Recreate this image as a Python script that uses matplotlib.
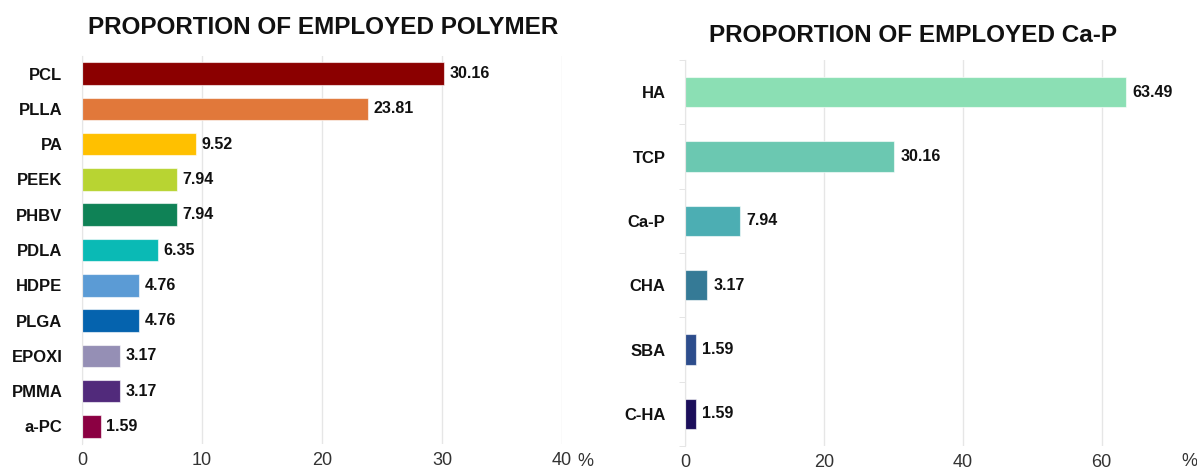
import matplotlib
matplotlib.use('Agg')
import matplotlib.pyplot as plt
from matplotlib.ticker import FixedLocator

# ---- data ----
polymers = ['PCL', 'PLLA', 'PA', 'PEEK', 'PHBV', 'PDLA', 'HDPE', 'PLGA', 'EPOXI', 'PMMA', 'a-PC']
polymer_pct = [30.16, 23.81, 9.52, 7.94, 7.94, 6.35, 4.76, 4.76, 3.17, 3.17, 1.59]
polymer_colors = ['#8B0000', '#E1783A', '#FFC000', '#B8D432', '#0F8256', '#0ABAB5',
                  '#5B9BD5', '#0563AE', '#958FB5', '#512A7B', '#8B0042']

capp = ['HA', 'TCP', 'Ca-P', 'CHA', 'SBA', 'C-HA']
capp_pct = [63.49, 30.16, 7.94, 3.17, 1.59, 1.59]
capp_colors = ['#8BDFB4', '#6BC8B1', '#4CAEB3', '#357A96', '#2D4D8C', '#1B0E5A']

plt.rcParams['font.family'] = ['Liberation Sans', 'DejaVu Sans']

W, H = 1197, 473
fig = plt.figure(figsize=(W / 100, H / 100), dpi=100)


def px_axes(x0, x1, y0, y1):
    return fig.add_axes([x0 / W, 1 - y1 / H, (x1 - x0) / W, (y1 - y0) / H])


def style(ax, cats, xmax, xticks, boundary_ticks):
    ax.set_xlim(0, xmax)
    ax.set_ylim(len(cats) - 0.5, -0.5)
    ax.set_yticks(range(len(cats)))
    ax.set_yticklabels(cats, fontsize=12, fontweight='bold', color='#111111')
    ax.set_xticks(xticks)
    ax.set_xticklabels([str(t) for t in xticks], fontsize=13, color='#333333')
    ax.tick_params(axis='x', length=0, pad=6)
    ax.grid(axis='x', color='#E6E6E6', linewidth=1)
    ax.set_axisbelow(True)
    for s in ['top', 'right', 'bottom']:
        ax.spines[s].set_visible(False)
    ax.spines['left'].set_color('#E6E6E6')
    if boundary_ticks:
        ax.yaxis.set_minor_locator(FixedLocator([i - 0.5 for i in range(len(cats) + 1)]))
        ax.tick_params(axis='y', which='minor', length=4, color='#E0E0E0')
        ax.tick_params(axis='y', which='major', length=0, pad=14)
    else:
        ax.tick_params(axis='y', length=0, pad=14)


# ---- left: polymers ----
ax1 = px_axes(82, 562, 56, 444)
ax1.barh(range(len(polymers)), polymer_pct, height=0.64, color=polymer_colors,
         edgecolor=(1, 1, 1, 0.6), linewidth=0.8)
style(ax1, polymers, 40, [0, 10, 20, 30, 40], False)
for i, v in enumerate(polymer_pct):
    ax1.text(v + 0.45, i, f'{v:.2f}', va='center', ha='left', fontsize=11.5,
             fontweight='bold', color='#111111')
fig.text(577 / W, 1 - 461 / H, '%', ha='left', va='center', fontsize=13, color='#333333')
fig.text(323 / W, 1 - 28 / H, 'PROPORTION OF EMPLOYED POLYMER', ha='center', va='center',
         fontsize=17.5, fontweight='bold', color='#111111')

# ---- right: Ca-P ----
ax2 = px_axes(685, 1185, 60, 446)
ax2.barh(range(len(capp)), capp_pct, height=0.47, color=capp_colors,
         edgecolor=(1, 1, 1, 0.6), linewidth=0.8)
style(ax2, capp, 72, [0, 20, 40, 60], True)
for i, v in enumerate(capp_pct):
    ax2.text(v + 0.9, i, f'{v:.2f}', va='center', ha='left', fontsize=11.5,
             fontweight='bold', color='#111111')
fig.text(1181 / W, 1 - 461 / H, '%', ha='left', va='center', fontsize=13, color='#333333')
fig.text(913 / W, 1 - 35 / H, 'PROPORTION OF EMPLOYED Ca-P', ha='center', va='center',
         fontsize=17.5, fontweight='bold', color='#111111')

fig.savefig('out.png', dpi=100)
